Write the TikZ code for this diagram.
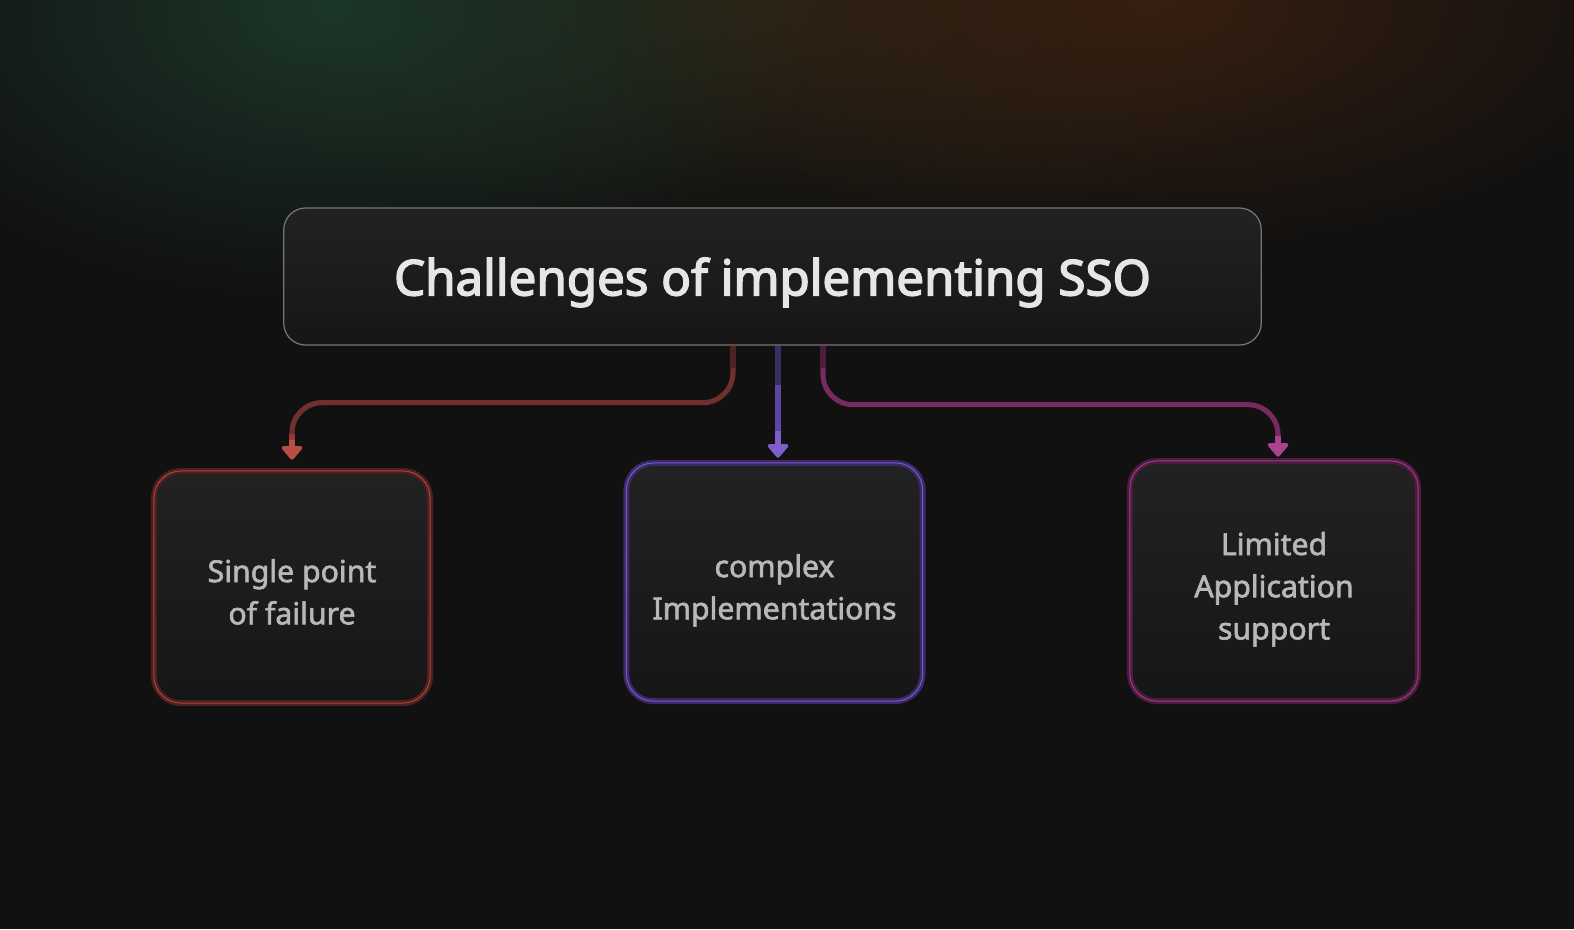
\documentclass[tikz,border=0pt]{standalone}
\usepackage{fontspec}
\setmainfont{Noto Sans}
\newfontfamily\headfont{Noto Sans}[FakeBold=3]
\newfontfamily\cardfont{Noto Sans}[FakeBold=2]
\usetikzlibrary{arrows.meta,fadings,calc}

\tikzfading[name=glowfade, inner color=transparent!0, outer color=transparent!100]

\definecolor{bgc}{HTML}{111111}
\definecolor{glowgreen}{HTML}{1C3629}
\definecolor{glowbrown}{HTML}{371F10}
\definecolor{glowmid}{HTML}{2A2618}
\definecolor{boxtop}{HTML}{222222}
\definecolor{boxbot}{HTML}{161616}
\definecolor{titleline}{HTML}{767676}
\definecolor{titletext}{HTML}{E6E6E6}
\definecolor{cardtext}{HTML}{B8B8B8}
% failure (red) branch
\definecolor{redA}{HTML}{4E2424}
\definecolor{redB}{HTML}{712F2F}
\definecolor{redC}{HTML}{B84E44}
\definecolor{redRing}{HTML}{4A2020}
\definecolor{redLine}{HTML}{B0463C}
% implementation (purple) branch
\definecolor{purA}{HTML}{3A2D63}
\definecolor{purB}{HTML}{5C46A4}
\definecolor{purC}{HTML}{7E5ECA}
\definecolor{purRing}{HTML}{3A2A66}
\definecolor{purLine}{HTML}{7A58C8}
% application (magenta) branch
\definecolor{magA}{HTML}{4E1E3E}
\definecolor{magB}{HTML}{762A5E}
\definecolor{magC}{HTML}{AA428C}
\definecolor{magRing}{HTML}{4C1C40}
\definecolor{magLine}{HTML}{A03A84}

% card text: centred lines, set a little below the geometric centre
\newcommand{\cardlines}[1]{\raisebox{-2.2pt}[\height][\depth]{\begin{tabular}{@{}c@{}}#1\end{tabular}}}

\tikzset{
  titlebox/.style={rectangle, rounded corners=0.22cm, top color=boxtop, bottom color=boxbot,
    draw=titleline, line width=0.35pt, minimum width=9.77cm, minimum height=1.37cm,
    text depth=0pt, text=titletext, font=\headfont\fontsize{14}{17}\selectfont},
  card/.style={rectangle, rounded corners=0.27cm, top color=boxtop, bottom color=boxbot,
    line width=0.7pt, double distance=0.28pt, text=cardtext,
    font=\cardfont\fontsize{8.6}{12}\selectfont},
  link/.style={line width=1.45pt, rounded corners=0.3cm},
  tip/.style={-{Triangle[width=6.8pt,length=4.2pt,round]}, line width=1.45pt},
}

\begin{document}
\begin{tikzpicture}[x=0.01cm,y=-0.01cm]
\useasboundingbox (0,0) rectangle (1574,929);
\fill[bgc] (0,0) rectangle (1574,929);

% soft coloured glows along the top edge
\begin{scope}
  \clip (0,0) rectangle (1574,929);
  \fill[glowmid, path fading=glowfade] (760,0) ellipse [x radius=6cm, y radius=2.4cm];
  \fill[glowgreen, path fading=glowfade] (330,10) ellipse [x radius=5cm, y radius=2.9cm];
  \fill[glowbrown, path fading=glowfade] (1150,0) ellipse [x radius=5.5cm, y radius=2.6cm];
\end{scope}

% header
\node[titlebox] (title) at (772.5,276.5) {Challenges of implementing SSO};

% cards
\node[card, draw=redRing, double=redLine, minimum width=2.76cm, minimum height=2.32cm]
  (fail) at (292,587) {\cardlines{Single point\\of failure}};
\node[card, draw=purRing, double=purLine, minimum width=2.96cm, minimum height=2.38cm]
  (impl) at (774.5,582) {\cardlines{complex\\Implementations}};
\node[card, draw=magRing, double=magLine, minimum width=2.88cm, minimum height=2.40cm]
  (appl) at (1274,581) {\cardlines{Limited\\Application\\support}};

% red connector: header -> failure card
\coordinate (r0) at ([xshift=-0.395cm]title.south);
\coordinate (r1) at ([yshift=0.67cm]fail.north);
\draw[link, redB] (r0) |- (r1) -- ([yshift=0.3cm]fail.north);
\draw[line width=1.45pt, redA] (r0) -- ++(0,-0.22cm);
\draw[line width=1.45pt, redB!60!redC] ([yshift=0.36cm]fail.north) -- ([yshift=0.28cm]fail.north);
\draw[tip, redC] ([yshift=0.30cm]fail.north) -- ([yshift=0.10cm]fail.north);

% purple connector: header -> implementation card
\coordinate (p0) at ([xshift=0.055cm]title.south);
\draw[line width=1.45pt, purA] (p0) -- ([yshift=-0.4cm]p0);
\draw[line width=1.45pt, purB] ([yshift=-0.39cm]p0) -- ([yshift=0.3cm]p0 |- impl.north);
\draw[tip, purC] ([yshift=0.31cm]p0 |- impl.north) -- ([yshift=0.04cm]p0 |- impl.north);

% magenta connector: header -> application card
\coordinate (m0) at ([xshift=0.505cm]title.south);
\coordinate (m1) at ([xshift=0.04cm, yshift=0.55cm]appl.north);
\draw[link, magB] (m0) |- (m1) -- ([xshift=0.04cm, yshift=0.2cm]appl.north);
\draw[line width=1.45pt, magA] (m0) -- ++(0,-0.22cm);
\draw[tip, magC] ([xshift=0.04cm, yshift=0.24cm]appl.north) -- ([xshift=0.04cm, yshift=0.03cm]appl.north);
\end{tikzpicture}
\end{document}
